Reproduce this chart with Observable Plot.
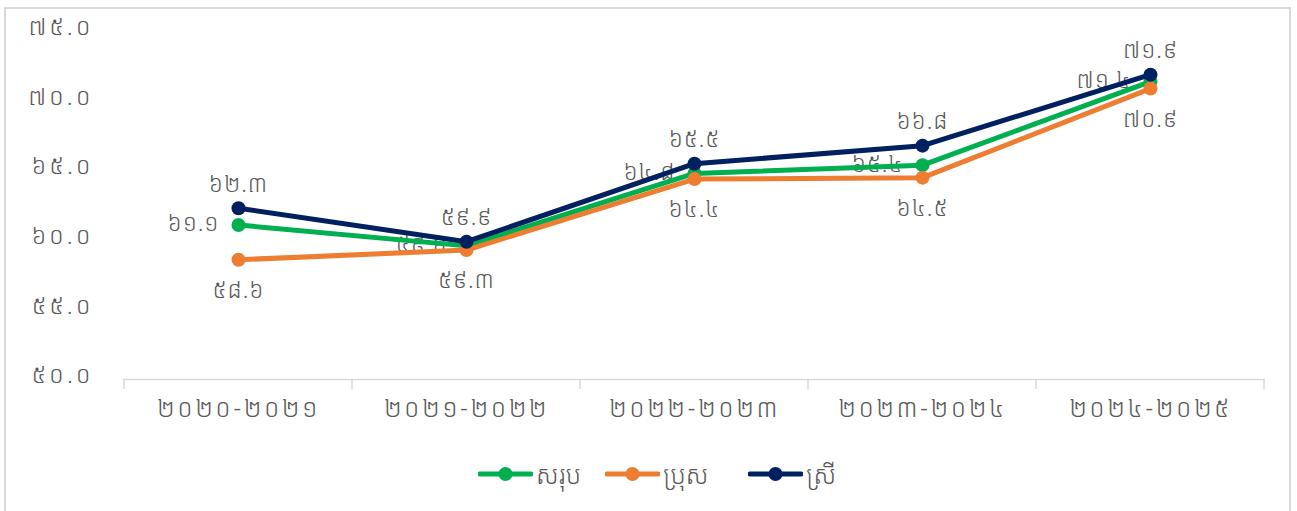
<!DOCTYPE html>
<html><head><meta charset="utf-8">
<script src="https://cdn.jsdelivr.net/npm/d3@7"></script>
<script src="https://cdn.jsdelivr.net/npm/@observablehq/plot@0.6"></script>
<style>
body{margin:0;background:#fff;font-family:"Noto Sans Khmer","Noto Sans",sans-serif;}
#frame{position:absolute;left:4px;top:7px;width:1287px;height:510px;border:2px solid #d9d9d9;box-sizing:border-box;}
#chart{position:absolute;left:0;top:0;}
#legend{position:absolute;top:452px;left:0;width:1297px;height:44px;}
.item{position:absolute;top:0;display:flex;align-items:center;height:44px;font-size:25px;color:#595959;font-weight:300;}
.item svg{margin-right:3px;}
g[aria-label="x-axis tick label"] text{letter-spacing:2.5px;}
g[aria-label="y-axis tick label"] text{letter-spacing:3px;}
g[aria-label="text"] text{letter-spacing:1px;}
</style></head>
<body>
<div id="frame"></div>
<div id="chart"></div>
<div id="legend"></div>
<script>
const categories = ["២០២០-២០២១","២០២១-២០២២","២០២២-២០២៣","២០២៣-២០២៤","២០២៤-២០២៥"];
const seriesNames = ["សរុប","ប្រុស","ស្រី"];
const seriesColors = ["#00b050","#ed7d31","#002060"];
const totalValues  = [61.1, 59.6, 64.8, 65.4, 71.4];
const maleValues   = [58.6, 59.3, 64.4, 64.5, 70.9];
const femaleValues = [62.3, 59.9, 65.5, 66.8, 71.9];
const yTicks = [50, 55, 60, 65, 70, 75];

const khDigits = "០១២៣៤៥៦៧៨៩";
const kh = s => String(s).replace(/[0-9]/g, d => khDigits[+d]);
const fmt = v => kh(d3.format(".1f")(v));

const mk = vals => categories.map((c,i) => ({cat:c, value:vals[i]}));
const total = mk(totalValues), male = mk(maleValues), female = mk(femaleValues);

const boundaryTicks = (index, scales) => {
  const x = scales.x, y = scales.y;
  const xs = categories.map(c => x(c));
  const step = xs[1]-xs[0];
  const bounds = [xs[0]-step/2, ...xs.map(v => v+step/2)];
  const g = d3.create("svg:g");
  const y0 = y(50);
  bounds.forEach(b => g.append("line").attr("x1",b).attr("x2",b).attr("y1",y0).attr("y2",y0+10)
    .attr("stroke","#d9d9d9").attr("stroke-width",1.5));
  return g.node();
};

const lineOpts = (c) => ({x:"cat", y:"value", stroke:c, strokeWidth:5});
const dotOpts = (c) => ({x:"cat", y:"value", fill:c, r:7});
const textBase = {x:"cat", y:"value", text: d => fmt(d.value), fill:"#595959", fontSize:23, fontWeight:300};

const chart = Plot.plot({
  width: 1297, height: 440,
  marginTop: 31, marginBottom: 61, marginLeft: 123, marginRight: 32,
  style: {fontFamily:'"Noto Sans Khmer","Noto Sans",sans-serif', color:"#595959", background:"transparent"},
  x: {type:"point", domain: categories, padding: 0.5, label: null},
  y: {domain: [50, 75], label: null},
  marks: [
    Plot.axisY({ticks: yTicks, tickFormat: fmt, tickSize: 0, tickPadding: 30, fontSize: 24, fontWeight:300, dy: -4, label: null}),
    Plot.axisX({tickSize: 0, tickPadding: 20, fontSize: 25, fontWeight:300, label: null}),
    Plot.ruleY([50], {stroke:"#d9d9d9", strokeWidth:1.5}),
    boundaryTicks,
    Plot.text(total, {...textBase, dx:-19, textAnchor:"end", dy:-1}),
    Plot.text(female, {...textBase, dy:-24}),
    Plot.text(male, {...textBase, dy:31}),
    Plot.line(total, lineOpts(seriesColors[0])),
    Plot.dot(total, dotOpts(seriesColors[0])),
    Plot.line(male, lineOpts(seriesColors[1])),
    Plot.dot(male, dotOpts(seriesColors[1])),
    Plot.line(female, lineOpts(seriesColors[2])),
    Plot.dot(female, dotOpts(seriesColors[2]))
  ]
});
document.getElementById("chart").appendChild(chart);

const legendLefts = [478, 605, 748];
const legend = document.getElementById("legend");
seriesNames.forEach((name, i) => {
  const item = document.createElement("div");
  item.className = "item";
  item.style.left = legendLefts[i] + "px";
  item.innerHTML = `<svg width="55" height="14"><line x1="2" x2="53" y1="7" y2="7" stroke="${seriesColors[i]}" stroke-width="5" stroke-linecap="round"/><circle cx="27.5" cy="7" r="7" fill="${seriesColors[i]}"/></svg><span>${name}</span>`;
  legend.appendChild(item);
});
</script>
</body></html>
